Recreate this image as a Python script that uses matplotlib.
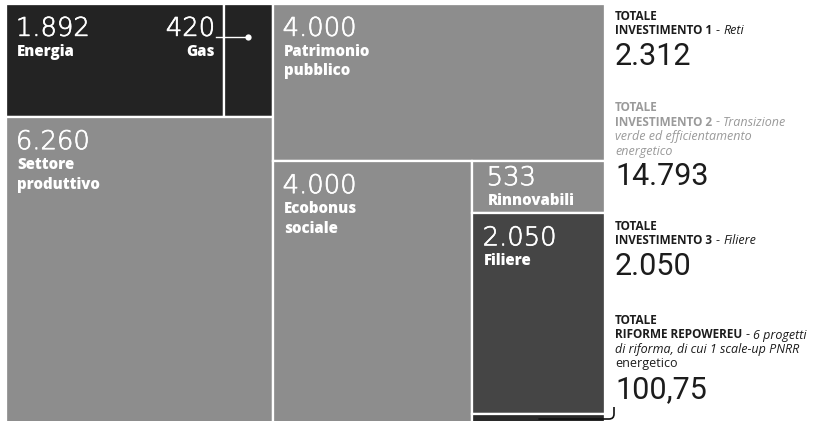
import matplotlib
matplotlib.use("Agg")
import matplotlib.pyplot as plt
import matplotlib.patheffects as pe
from matplotlib.patches import Rectangle, PathPatch
from matplotlib.path import Path
from matplotlib.transforms import Affine2D
from matplotlib.lines import Line2D

# ---------------- data ----------------
keys = ["Energia", "Gas", "Settore", "Patrimonio", "Ecobonus", "Rinnovabili", "Filiere", "Riforme"]
names = [["Energia"], ["Gas"], ["Settore", "produttivo"], ["Patrimonio", "pubblico"],
         ["Ecobonus", "sociale"], ["Rinnovabili"], ["Filiere"], []]
values = [1892, 420, 6260, 4000, 4000, 533, 2050, 100.75]

total_heads = ["INVESTIMENTO 1", "INVESTIMENTO 2", "INVESTIMENTO 3", "RIFORME REPOWEREU"]
total_desc = [["Reti"],
              ["Transizione", "verde ed efficientamento", "energetico"],
              ["Filiere"],
              ["6 progetti", "di riforma, di cui 1 scale-up PNRR", "energetico"]]
total_members = [["Energia", "Gas"], ["Settore", "Patrimonio", "Ecobonus", "Rinnovabili"],
                 ["Filiere"], ["Riforme"]]


def fmt_it(x):
    if abs(x - round(x)) < 1e-9:
        return f"{int(round(x)):,}".replace(",", ".")
    return f"{x:,.2f}".replace(",", "X").replace(".", ",").replace("X", ".")


# ---------------- figure ----------------
W, H = 815, 421
fig = plt.figure(figsize=(W / 100, H / 100), dpi=100)
fig.patch.set_facecolor("white")
T = Affine2D().scale(1, -1).translate(0, H)  # pixel coords, origin top-left

ax = fig.add_axes([5.85 / W, (H - 423.95) / H, 599.3 / W, 420.1 / H])
ax.set_xlim(0, 1)
ax.set_ylim(1, 0)
ax.axis("off")

v = dict(zip(keys, values))
total = sum(values)
c1 = v["Energia"] + v["Gas"] + v["Settore"]
wx1 = c1 / total
h_top = (v["Energia"] + v["Gas"]) / c1
we_ = wx1 * v["Energia"] / (v["Energia"] + v["Gas"])
rects = {}
rects["Energia"] = (0, 0, we_, h_top)
rects["Gas"] = (we_, 0, wx1 - we_, h_top)
rects["Settore"] = (0, h_top, wx1, 1 - h_top)
c2 = total - c1
w2 = 1 - wx1
h_p = v["Patrimonio"] / c2
rects["Patrimonio"] = (wx1, 0, w2, h_p)
rest = c2 - v["Patrimonio"]
w_eco = w2 * v["Ecobonus"] / rest
rects["Ecobonus"] = (wx1, h_p, w_eco, 1 - h_p)
right_keys = ["Rinnovabili", "Filiere", "Riforme"]
right_sum = sum(v[k] for k in right_keys)
yy = h_p
for k in right_keys:
    hh = (1 - h_p) * v[k] / right_sum
    rects[k] = (wx1 + w_eco, yy, w2 - w_eco, hh)
    yy += hh

colors = {"Energia": "#232323", "Gas": "#232323", "Settore": "#8d8d8d", "Patrimonio": "#8d8d8d",
          "Ecobonus": "#8d8d8d", "Rinnovabili": "#8d8d8d", "Filiere": "#454545", "Riforme": "#2a2a2a"}

for k in keys:
    x0, y0, w, h = rects[k]
    ax.add_patch(Rectangle((x0, y0), w, h, facecolor=colors[k], edgecolor="white",
                           linewidth=1.65, joinstyle="miter"))


def px(xd, yd):
    X, Y = ax.transData.transform((xd, yd))
    return X, H - Y


NUMFONT = dict(family=["DejaVu Sans"], weight="light", size=18.6, color="white",
               path_effects=[pe.withStroke(linewidth=0.5, foreground="white")])
LABFONT = dict(family=["Open Sans", "DejaVu Sans"], weight=800, size=10.8, color="white")

# label offsets (px) : dx, number baseline, first label baseline
offs = {k: (10, 32, 52) for k in keys}
offs["Rinnovabili"] = (15, 24, 44)
offs["Filiere"] = (11, 32, 52)

for k, nm, val in zip(keys, names, values):
    if k == "Riforme":
        continue
    x0, y0, w, h = rects[k]
    X0, Y0 = px(x0, y0)
    dx, nb, lb = offs[k]
    if k == "Gas":
        xa = X0 - 9
        ha = "right"
        lx = xa
    else:
        xa = X0 + dx
        ha = "left"
        lx = xa + 1.5
    fig.text(xa, Y0 + nb, fmt_it(val), transform=T, ha=ha, va="baseline", **NUMFONT)
    for i, line in enumerate(nm):
        fig.text(lx, Y0 + lb + i * 19.5, line, transform=T, ha=ha, va="baseline", **LABFONT)

# Gas connector
x0, y0, w, h = rects["Gas"]
gx, gy0 = px(x0 + w / 2, y0)
ex, _ = px(x0, y0)
fig.add_artist(Line2D([ex - 8, gx], [gy0 + 33, gy0 + 33], transform=T, color="white", lw=1.0))
fig.add_artist(Line2D([gx], [gy0 + 33], transform=T, marker="o", markersize=4.5,
                      color="white", markeredgewidth=0))

# ---------------- right column ----------------
fig.canvas.draw()
renderer = fig.canvas.get_renderer()

BLACK = "#1c1c1c"
GREY = "#9a9a9a"
RX = 615
group_top = [20, 111, 230, 324]
group_color = [BLACK, GREY, BLACK, BLACK]
SMALLFAM = ["Open Sans", "DejaVu Sans"]
SMALL = 9.0
pitch = 14.5


def put(x, y, s, **kw):
    t = fig.text(x, y, s, transform=T, ha="left", va="baseline", **kw)
    return t.get_window_extent(renderer).width


for gi in range(4):
    col = group_color[gi]
    yb = group_top[gi]
    put(RX, yb, "TOTALE", family=SMALLFAM, weight="bold", size=8.5, color=col)
    yb += pitch
    x = RX
    x += put(x, yb, total_heads[gi], family=SMALLFAM, weight="bold", size=8.5, color=col)
    x += 3.5
    x += put(x, yb, "-", family=SMALLFAM, size=SMALL, color=col)
    x += 3.5
    desc = total_desc[gi]
    put(x, yb, desc[0], family=SMALLFAM, style="italic", size=SMALL, color=col)
    for j, line in enumerate(desc[1:]):
        yb += pitch
        italic = not (gi == 3 and j == len(desc) - 2)
        put(RX, yb, line, family=SMALLFAM, style="italic" if italic else "normal",
            size=SMALL, color=col)
    tot = sum(v[m] for m in total_members[gi])
    yb += 30.5
    put(RX, yb, fmt_it(tot), family=["Roboto", "DejaVu Sans"], weight="normal", size=22,
        color=BLACK)

# Riforme connector bracket
x0, y0, w, h = rects["Riforme"]
cx, cy = px(x0 + w / 2, y0)
yline = 419
r = 5
verts = [(614, 407), (614, yline - r), (614, yline), (614 - r, yline), (cx, yline)]
codes = [Path.MOVETO, Path.LINETO, Path.CURVE3, Path.CURVE3, Path.LINETO]
fig.add_artist(PathPatch(Path(verts, codes), transform=T, facecolor="none",
                         edgecolor="#111111", lw=1.2))

fig.savefig("out.png", dpi=100, facecolor="white")
